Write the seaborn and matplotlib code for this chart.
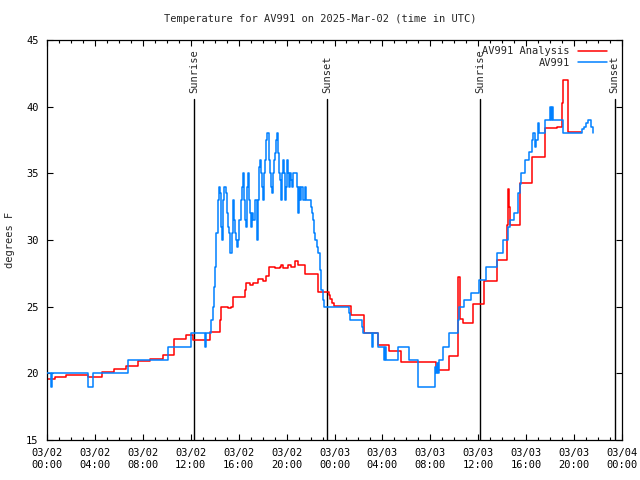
"""
plot.py - AV991 temperature, observed vs analysis, 2025-03-02 (UTC).
"""
import matplotlib
matplotlib.use("Agg")
import matplotlib.pyplot as plt
import matplotlib.dates as mdates
import pandas as pd
import seaborn as sns

START = pd.Timestamp("2025-03-02 00:00")

# hours after START, deg F
obs_hours = [0.0, 0.35, 0.45, 3.45, 3.8, 6.75, 10.1, 12.0, 13.2, 13.3,
             13.7, 13.85, 13.95, 14.05, 14.14, 14.28, 14.36, 14.44, 14.5, 14.56,
             14.61, 14.69, 14.78, 14.94, 15.0, 15.06, 15.11, 15.19, 15.25, 15.31,
             15.44, 15.53, 15.61, 15.67, 15.75, 15.83, 15.94, 16.03, 16.17, 16.28,
             16.36, 16.44, 16.5, 16.58, 16.69, 16.75, 16.83, 16.94, 17.06, 17.14,
             17.22, 17.33, 17.53, 17.61, 17.69, 17.75, 17.83, 17.94, 18.06, 18.14,
             18.19, 18.28, 18.36, 18.5, 18.61, 18.69, 18.78, 18.86, 18.94, 19.03,
             19.11, 19.17, 19.25, 19.33, 19.44, 19.53, 19.61, 19.69, 19.78, 19.86,
             19.94, 20.03, 20.14, 20.22, 20.31, 20.39, 20.47, 20.56, 20.83, 20.94,
             21.03, 21.11, 21.22, 21.39, 21.5, 21.58, 22.0, 22.11, 22.22, 22.31,
             22.36, 22.5, 22.6, 22.75, 22.9, 23.0, 23.15, 25.19, 25.3, 26.3,
             26.36, 27.14, 27.22, 27.61, 28.17, 28.25, 28.33, 29.28, 30.25, 31.0,
             32.42, 32.5, 32.55, 32.65, 32.75, 33.03, 33.58, 34.28, 34.42, 34.83,
             35.39, 36.08, 36.64, 37.55, 38.08, 38.45, 38.64, 39.0, 39.28, 39.47,
             39.61, 39.89, 40.25, 40.47, 40.58, 40.7, 40.8, 40.95, 41.08, 41.58,
             42.0, 42.11, 42.19, 42.28, 43.08, 44.56, 44.7, 44.83, 45.0, 45.17,
             45.33, 45.45, 45.61]
obs_temps = [20.0, 19.0, 20.0, 19.0, 20.0, 21.0, 22.0, 23.0, 22.0, 23.0,
             24.0, 25.0, 26.5, 28.0, 30.5, 33.0, 34.0, 33.5, 33.0, 31.0,
             30.0, 33.0, 34.0, 33.5, 33.0, 32.0, 31.0, 30.5, 29.5, 29.0,
             30.5, 33.0, 31.5, 30.5, 30.0, 29.5, 30.0, 31.5, 33.0, 34.0,
             35.0, 33.0, 31.5, 31.0, 34.0, 35.0, 33.0, 32.0, 31.0, 32.0,
             31.5, 33.0, 30.0, 33.0, 35.5, 36.0, 35.0, 34.0, 33.0, 35.0,
             36.0, 37.5, 38.0, 36.0, 35.0, 34.0, 33.5, 35.0, 36.0, 36.5,
             37.5, 38.0, 36.5, 35.0, 34.5, 33.0, 35.0, 36.0, 35.0, 33.0,
             34.0, 36.0, 35.0, 34.0, 35.0, 34.5, 34.0, 35.0, 34.0, 32.0,
             34.0, 33.0, 34.0, 33.0, 34.0, 33.0, 32.5, 32.0, 31.5, 30.5,
             30.0, 29.5, 29.0, 27.75, 26.25, 25.5, 25.0, 24.5, 24.0, 23.5,
             23.0, 22.0, 23.0, 22.0, 21.0, 22.0, 21.0, 22.0, 21.0, 19.0,
             20.5, 20.0, 20.75, 20.0, 21.0, 22.0, 23.0, 24.0, 25.0, 25.5,
             26.0, 27.0, 28.0, 29.0, 30.0, 31.0, 31.5, 32.0, 33.5, 34.2,
             35.0, 36.0, 36.6, 37.5, 38.0, 37.0, 37.5, 38.75, 38.0, 39.0,
             40.0, 39.0, 40.0, 39.0, 38.0, 38.0, 38.3, 38.5, 38.8, 39.0,
             39.0, 38.5, 38.0]

ana_hours = [0.0, 0.67, 1.58, 3.44, 4.56, 5.58, 6.58, 7.61, 8.58, 9.69,
             10.61, 11.64, 12.2, 13.58, 14.42, 14.56, 15.1, 15.4, 15.53, 16.5,
             16.64, 16.92, 17.2, 17.61, 18.0, 18.3, 18.55, 19.0, 19.42, 19.56,
             19.7, 20.1, 20.4, 20.67, 20.94, 21.5, 22.61, 23.5, 23.65, 23.8,
             23.95, 25.39, 26.5, 27.61, 28.53, 29.56, 32.47, 33.58, 34.33, 34.5,
             34.7, 35.53, 36.5, 37.53, 38.36, 38.45, 38.53, 38.64, 39.47, 40.47,
             41.56, 42.61, 43.03, 43.08, 43.53, 44.56]
ana_temps = [19.55, 19.75, 19.9, 19.7, 20.1, 20.3, 20.55, 20.9, 21.1, 21.4,
             22.55, 22.85, 22.5, 23.1, 24.0, 25.0, 24.9, 25.0, 25.75, 26.25,
             26.75, 26.6, 26.75, 27.05, 26.95, 27.3, 28.0, 27.9, 28.0, 28.1,
             27.9, 28.1, 28.0, 28.4, 28.1, 27.45, 26.1, 25.9, 25.6, 25.3,
             25.05, 24.4, 23.0, 22.1, 21.7, 20.85, 20.25, 21.3, 27.25, 24.1,
             23.75, 25.2, 26.9, 28.5, 31.1, 33.8, 32.5, 31.1, 34.25, 36.2,
             38.4, 38.5, 40.25, 42.0, 38.1, 38.1]

sun_hours = [12.27, 23.39, 36.17, 47.39]
sun_labels = ["Sunrise", "Sunset", "Sunrise", "Sunset"]


def to_time(hours):
    return START + pd.to_timedelta(hours, unit="h")


obs = pd.DataFrame({"time": to_time(obs_hours), "temp": obs_temps})
ana = pd.DataFrame({"time": to_time(ana_hours), "temp": ana_temps})

sns.set_style("ticks", {"xtick.direction": "in", "ytick.direction": "in"})
plt.rcParams["font.family"] = ["DejaVu Sans Mono"]
plt.rcParams["font.size"] = 7.5

fig = plt.figure(figsize=(6.4, 4.8), dpi=100)
ax = fig.add_axes([47 / 640, 40 / 480, 575 / 640, 400 / 480])

for h, lab in zip(sun_hours, sun_labels):
    ax.axvline(to_time(h), ymin=0, ymax=(40.55 - 15) / 30, color="black",
               lw=1.0, zorder=1)
    ax.text(to_time(h), 41.0, lab, rotation=90, ha="center", va="bottom",
            fontsize=7.5)

sns.lineplot(data=ana, x="time", y="temp", color="#ff0000", lw=1.1,
             drawstyle="steps-post", estimator=None, label="AV991 Analysis",
             ax=ax, zorder=2)
sns.lineplot(data=obs, x="time", y="temp", color="#0080ff", lw=1.1,
             drawstyle="steps-post", estimator=None, label="AV991",
             ax=ax, zorder=3)

ax.set_xlim(START, START + pd.Timedelta(hours=48))
ax.set_ylim(15, 45)
ax.set_yticks(range(15, 46, 5))
ax.xaxis.set_major_locator(mdates.HourLocator(byhour=range(0, 24, 4)))
ax.xaxis.set_minor_locator(mdates.HourLocator())
ax.xaxis.set_major_formatter(mdates.DateFormatter("%m/%d\n%H:%M"))
ax.tick_params(which="both", direction="in", top=True, right=True,
               labelsize=7.5, colors="black")
ax.tick_params(which="major", length=4, width=0.8, pad=6)
ax.tick_params(which="minor", length=2, width=0.8)
for s in ax.spines.values():
    s.set_visible(True)
    s.set_color("black")
    s.set_linewidth(0.9)
ax.set_xlabel("")
ax.set_ylabel("")

leg = ax.legend(loc="upper right", frameon=False, markerfirst=False,
                handlelength=2.8, borderaxespad=0.2, labelspacing=0.15,
                fontsize=7.5, bbox_to_anchor=(0.985, 1.0))

fig.text(0.5, 1 - 19 / 480, "Temperature for AV991 on 2025-Mar-02 (time in UTC)",
         ha="center", va="center", fontsize=7.5)
fig.text(10 / 640, 0.5, "degrees F", rotation=90, ha="center", va="center",
         fontsize=7.5)

fig.savefig("out.png", dpi=100)
